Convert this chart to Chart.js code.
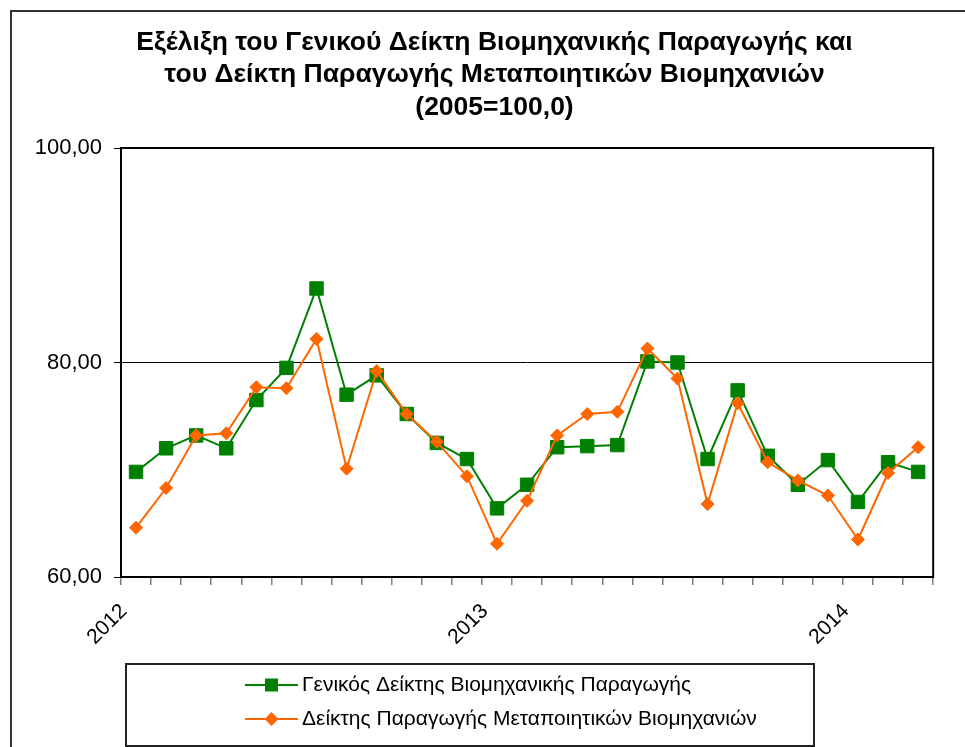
<!DOCTYPE html>
<html>
<head>
<meta charset="utf-8">
<script src="https://cdn.jsdelivr.net/npm/chart.js@4.4.1/dist/chart.umd.min.js"></script>
<style>
  html, body { margin: 0; padding: 0; background: #fff; }
  #wrap { width: 965px; height: 747px; }
</style>
</head>
<body>
<div id="wrap"><canvas id="myChart" width="965" height="747"></canvas></div>
<script>
// monthly values, Jan 2012 - Mar 2014
var months = ['01/2012','02/2012','03/2012','04/2012','05/2012','06/2012','07/2012','08/2012','09/2012','10/2012','11/2012','12/2012',
              '01/2013','02/2013','03/2013','04/2013','05/2013','06/2013','07/2013','08/2013','09/2013','10/2013','11/2013','12/2013',
              '01/2014','02/2014','03/2014'];
var yearLabels = ['2012', '2013', '2014'];
var seriesNames = ['Γενικός Δείκτης Βιομηχανικής Παραγωγής', 'Δείκτης Παραγωγής Μεταποιητικών Βιομηχανιών'];
var generalIndex = [69.8, 72.0, 73.2, 72.0, 76.5, 79.5, 86.9, 77.0, 78.8, 75.2, 72.5, 71.0,
                    66.4, 68.6, 72.1, 72.2, 72.3, 80.1, 80.0, 71.0, 77.4, 71.3, 68.6, 70.9,
                    67.0, 70.7, 69.8];
var manufIndex = [64.6, 68.3, 73.2, 73.4, 77.7, 77.6, 82.2, 70.1, 79.2, 75.2, 72.6, 69.4,
                  63.1, 67.1, 73.2, 75.2, 75.4, 81.3, 78.5, 66.8, 76.2, 70.7, 69.0, 67.6,
                  63.5, 69.7, 72.1];
var yMin = 60, yMax = 100, yStep = 20;

var FONT = "'Liberation Sans', Arial, sans-serif";

function toPoints(arr) {
  return arr.map(function(v, i) { return { x: i + 0.5, y: v }; });
}

// white background, outer frame, plot frame
var framePlugin = {
  id: 'frame',
  beforeDraw: function(chart) {
    var c = chart.ctx;
    c.save();
    c.fillStyle = '#fff';
    c.fillRect(0, 0, chart.width, chart.height);
    c.strokeStyle = '#333';
    c.lineWidth = 2;
    c.strokeRect(11, 11, chart.width + 20, chart.height + 20);
    c.restore();
  },
  beforeDatasetsDraw: function(chart) {
    var a = chart.chartArea, c = chart.ctx;
    c.save();
    c.strokeStyle = '#000';
    c.lineWidth = 2;
    c.strokeRect(a.left, a.top, a.right - a.left, a.bottom - a.top);
    c.restore();
  }
};

// boxed legend under the plot
var legendBox = {
  id: 'legendBox',
  afterDraw: function(chart) {
    var c = chart.ctx;
    c.save();
    c.strokeStyle = '#222';
    c.lineWidth = 2;
    c.strokeRect(126, 664, 688, 82);
    var rows = [685, 719];
    c.font = '21px ' + FONT;
    c.textBaseline = 'middle';
    c.textAlign = 'left';
    chart.data.datasets.forEach(function(ds, i) {
      var y = rows[i];
      c.strokeStyle = ds.borderColor;
      c.lineWidth = 2;
      c.beginPath();
      c.moveTo(245, y);
      c.lineTo(298, y);
      c.stroke();
      c.fillStyle = ds.backgroundColor;
      c.beginPath();
      if (ds.pointStyle === 'rect') {
        c.rect(265, y - 6.5, 13, 13);
      } else {
        c.moveTo(271.5 - 7, y);
        c.lineTo(271.5, y - 7);
        c.lineTo(271.5 + 7, y);
        c.lineTo(271.5, y + 7);
        c.closePath();
      }
      c.fill();
      c.fillStyle = '#000';
      c.fillText(ds.label, 302, y);
    });
    c.restore();
  }
};

var ctx = document.getElementById('myChart').getContext('2d');

var chart = new Chart(ctx, {
  type: 'line',
  data: {
    datasets: [{
      label: seriesNames[0],
      data: toPoints(generalIndex),
      borderColor: '#008000',
      backgroundColor: '#008000',
      borderWidth: 2,
      pointStyle: 'rect',
      pointRadius: 9.5,
      pointBorderWidth: 1,
      order: 1
    },
    {
      label: seriesNames[1],
      data: toPoints(manufIndex),
      borderColor: '#FF6600',
      backgroundColor: '#FF6600',
      borderWidth: 2,
      pointStyle: 'rectRot',
      pointRadius: 6.5,
      pointBorderWidth: 1,
      order: 0
    }]
  },
  options: {
    responsive: false,
    animation: false,
    layout: { padding: { left: 24, right: 0, top: 0, bottom: 0 } },
    plugins: {
      legend: { display: false },
      tooltip: { enabled: false },
      title: {
        display: true,
        text: ['Εξέλιξη του Γενικού Δείκτη Βιομηχανικής Παραγωγής και',
               'του Δείκτη Παραγωγής Μεταποιητικών Βιομηχανιών',
               '(2005=100,0)'],
        color: '#000',
        font: { family: FONT, size: 26.5, weight: 'bold', lineHeight: '32.5px' },
        padding: { top: 26, bottom: 24.5 }
      }
    },
    scales: {
      x: {
        type: 'linear',
        min: 0,
        max: months.length,
        afterFit: function(s) { s.height = 170; },
        ticks: {
          stepSize: 1,
          autoSkip: false,
          minRotation: 45,
          maxRotation: 45,
          padding: 14,
          labelOffset: 3,
          color: '#000',
          font: { family: FONT, size: 21 },
          callback: function(v) { return v % 12 === 0 ? yearLabels[v / 12] : ''; }
        },
        grid: { drawOnChartArea: false, drawTicks: true, tickLength: 8, color: '#808080', lineWidth: 1.5 },
        border: { display: true, color: '#000', width: 2 }
      },
      y: {
        min: yMin,
        max: yMax,
        afterFit: function(s) { s.width = 97; },
        ticks: {
          stepSize: yStep,
          padding: 12,
          color: '#000',
          font: { family: FONT, size: 22 },
          callback: function(v) { return v.toFixed(2).replace('.', ','); }
        },
        grid: { color: '#000', lineWidth: 1, tickLength: 7 },
        border: { display: true, color: '#000', width: 2 }
      },
      // empty right-hand box, keeps the plot's right edge in place
      yRight: {
        position: 'right',
        min: yMin,
        max: yMax,
        afterFit: function(s) { s.width = 31; },
        ticks: { display: false },
        grid: { display: false },
        border: { display: false }
      }
    }
  },
  plugins: [framePlugin, legendBox]
});
</script>
</body>
</html>
